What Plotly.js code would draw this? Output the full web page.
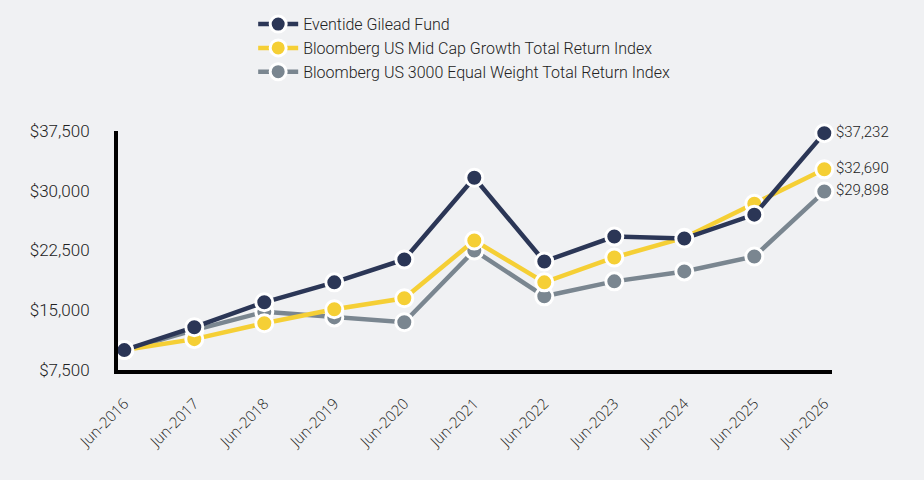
<!DOCTYPE html>
<html>
<head>
<meta charset="utf-8">
<script src="https://cdn.plot.ly/plotly-3.0.1.min.js"></script>
<style>
html,body{margin:0;padding:0;background:#f0f1f3;}
#chart{width:924px;height:480px;}
</style>
</head>
<body>
<div id="chart"></div>
<script>
const categories = ["Jun-2016","Jun-2017","Jun-2018","Jun-2019","Jun-2020","Jun-2021","Jun-2022","Jun-2023","Jun-2024","Jun-2025","Jun-2026"];
const fundValues = [10000, 12875, 16000, 18500, 21375, 31625, 21125, 24250, 24000, 27000, 37232];
const midCapValues = [10000, 11375, 13375, 15125, 16500, 23750, 18500, 21625, 24100, 28375, 32690];
const equalWeightValues = [10000, 12500, 14800, 14100, 13500, 22500, 16750, 18625, 19875, 21750, 29898];
const seriesNames = ["Eventide Gilead Fund", "Bloomberg US Mid Cap Growth Total Return Index", "Bloomberg US 3000 Equal Weight Total Return Index"];
const seriesColors = ["#2b3656", "#f5cf35", "#7a8690"];
const yTickVals = [7500, 15000, 22500, 30000, 37500];
const yTickText = ["$7,500", "$15,000", "$22,500", "$30,000", "$37,500"];

function endLabels(vals){
  return vals.map((v,i)=> i===vals.length-1 ? "$" + v.toLocaleString("en-US") : "");
}

const xIdx = categories.map((c,i)=>i);
const txtFont = (size, fam) => ({family: fam || "Roboto", size: size, color: "#222222", weight: 300});

function mk(vals, idx){
  return {
    x: xIdx, y: vals, name: seriesNames[idx], type: "scatter", mode: "lines+markers+text",
    legendrank: idx + 1,
    line: {color: seriesColors[idx], width: 4.5},
    marker: {color: seriesColors[idx], size: 17, line: {color: "#ffffff", width: 3}},
    text: endLabels(vals), textposition: "middle right",
    textfont: txtFont(15),
    cliponaxis: false, hoverinfo: "skip"
  };
}

const data = [mk(equalWeightValues, 2), mk(midCapValues, 1), mk(fundValues, 0)];

const layout = {
  width: 924, height: 480,
  paper_bgcolor: "#f0f1f3", plot_bgcolor: "#f0f1f3",
  margin: {l: 118, r: 92, t: 131, b: 110, autoexpand: false},
  font: {family: "Roboto", color: "#222222"},
  showlegend: true,
  legend: {
    traceorder: "normal", xref: "container", yref: "container",
    x: 0.274, y: 0.985, xanchor: "left", yanchor: "top",
    bgcolor: "rgba(0,0,0,0)", font: txtFont(16),
    itemwidth: 40
  },
  xaxis: {
    range: [-0.09, 10.11], tickvals: xIdx, ticktext: categories, tickangle: -45,
    showgrid: false, zeroline: false, showline: true, linecolor: "#000", linewidth: 4,
    ticks: "", ticklabelstandoff: 15, tickfont: txtFont(15, "Open Sans"), fixedrange: true
  },
  yaxis: {
    range: [7500, 37500], tickvals: yTickVals, ticktext: yTickText,
    showgrid: false, zeroline: false, showline: true, linecolor: "#000", linewidth: 4,
    ticks: "", ticklabelstandoff: 21, tickfont: txtFont(17), fixedrange: true
  }
};

Plotly.newPlot("chart", data, layout, {displayModeBar: false, staticPlot: true});
</script>
</body>
</html>
